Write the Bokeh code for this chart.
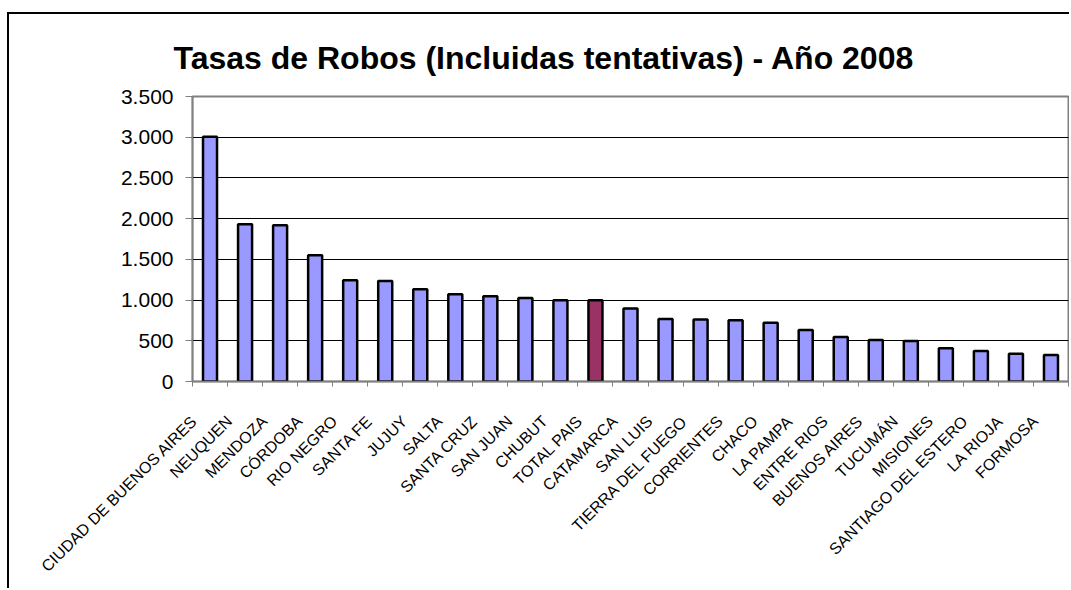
import numpy as np
from bokeh.plotting import figure
from bokeh.models import (ColumnDataSource, Range1d, FixedTicker, CustomJSTickFormatter, Title)
from bokeh.embed import file_html
from bokeh.resources import INLINE

categories = ["CIUDAD DE BUENOS AIRES", "NEUQUEN", "MENDOZA", "CÓRDOBA", "RIO NEGRO",
              "SANTA FE", "JUJUY", "SALTA", "SANTA CRUZ", "SAN JUAN", "CHUBUT",
              "TOTAL PAIS", "CATAMARCA", "SAN LUIS", "TIERRA DEL FUEGO", "CORRIENTES",
              "CHACO", "LA PAMPA", "ENTRE RIOS", "BUENOS AIRES", "TUCUMÁN", "MISIONES",
              "SANTIAGO DEL ESTERO", "LA RIOJA", "FORMOSA"]
values = [3005, 1930, 1918, 1550, 1243, 1235, 1132, 1070, 1047, 1026, 998,
          998, 895, 768, 760, 752, 723, 633, 547, 510, 498, 408, 375, 342, 326]
highlight = "TOTAL PAIS"
y_ticks = [0, 500, 1000, 1500, 2000, 2500, 3000, 3500]
title_text = "Tasas de Robos (Incluidas tentativas) - Año 2008"

FONT = "Liberation Sans"
n = len(categories)
xs = np.arange(n) + 0.5
colors = ["#993366" if c == highlight else "#9999FF" for c in categories]
src = ColumnDataSource(dict(x=xs, top=values, cat=categories, color=colors))

W, H = 1062, 576
p = figure(width=W, height=H, output_backend="svg", toolbar_location=None,
           x_range=Range1d(0, n), y_range=Range1d(0, 3500),
           min_border_left=183, min_border_right=3, min_border_top=82, min_border_bottom=209)
p.styles = {"margin-left": "7px", "margin-top": "12px",
            "border-left": "2px solid black", "border-top": "2px solid black"}
p.background_fill_color = "white"
p.border_fill_color = "white"
p.outline_line_color = "#808080"
p.outline_line_width = 2

p.title = Title(text=title_text, align="left", offset=-19, standoff=42,
                text_font=FONT, text_font_style="bold", text_font_size="32px",
                text_color="black")

p.vbar(x="x", top="top", width=0.4, source=src, fill_color="color",
       line_color="black", line_width=2.5)

# y axis
ya = p.yaxis[0]
ya.ticker = FixedTicker(ticks=y_ticks)
ya.formatter = CustomJSTickFormatter(
    code="return Math.round(tick).toString().replace(/\\B(?=(\\d{3})+(?!\\d))/g, '.');")
ya.axis_line_color = "#808080"
ya.axis_line_width = 1.5
ya.major_tick_line_color = "#808080"
ya.major_tick_out = 7
ya.major_tick_in = 0
ya.minor_tick_line_color = None
ya.major_label_text_font = FONT
ya.major_label_text_font_size = "21px"
ya.major_label_text_color = "black"
ya.major_label_standoff = 12

# x axis: labels left of centres, ticks at category boundaries
xa = p.xaxis[0]
label_ticks = [float(i) + 0.05 for i in range(n)]
xa.ticker = FixedTicker(ticks=label_ticks, minor_ticks=list(range(n + 1)))
xa.formatter = CustomJSTickFormatter(args=dict(labels=categories),
                                     code="return labels[Math.floor(tick)];")
xa.major_label_orientation = np.pi / 4
xa.axis_line_color = "#808080"
xa.axis_line_width = 1.5
xa.major_tick_line_color = None
xa.major_tick_out = 0
xa.major_tick_in = 0
xa.minor_tick_line_color = "#808080"
xa.minor_tick_out = 5
xa.minor_tick_in = 0
xa.major_label_text_font = FONT
xa.major_label_text_font_size = "16px"
xa.major_label_text_color = "black"
xa.major_label_standoff = 32

p.xgrid.grid_line_color = None
p.ygrid.ticker = FixedTicker(ticks=y_ticks)
p.ygrid.grid_line_color = "black"
p.ygrid.grid_line_width = 1

open("out.html", "w").write(file_html(p, INLINE))
